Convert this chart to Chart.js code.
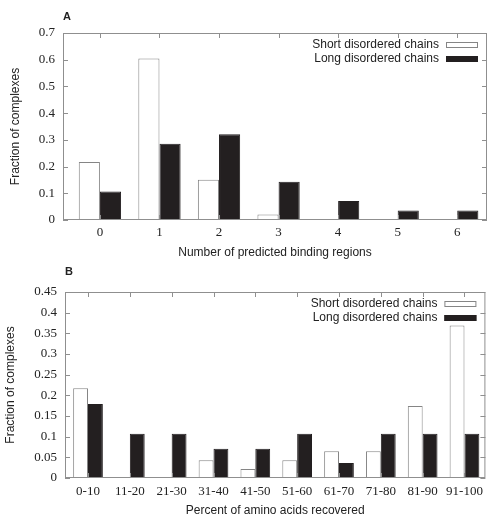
<!DOCTYPE html>
<html>
<head>
<meta charset="utf-8">
<script src="https://cdn.jsdelivr.net/npm/chart.js@4"></script>
<style>
    html, body { margin: 0; padding: 0; background: #fff; }
    body { width: 489px; height: 518px; position: relative; overflow: hidden; }
    .panel { position: absolute; left: 0; width: 489px; }
    #panel-a { top: 0; height: 262px; }
    #panel-b { top: 262px; height: 256px; }
</style>
</head>
<body>
<div class="panel" id="panel-a"><canvas id="chart-a"></canvas></div>
<div class="panel" id="panel-b"><canvas id="chart-b"></canvas></div>
<script>
// Panel A: number of predicted binding regions
const bindingRegions = ['0', '1', '2', '3', '4', '5', '6'];
const shortBinding = [0.217, 0.605, 0.151, 0.021, 0, 0, 0];
const longBinding = [0.107, 0.285, 0.321, 0.143, 0.071, 0.036, 0.036];

// Panel B: percent of amino acids recovered
const recoveredBins = ['0-10', '11-20', '21-30', '31-40', '41-50', '51-60', '61-70', '71-80', '81-90', '91-100'];
const shortRecovered = [0.217, 0, 0, 0.043, 0.022, 0.043, 0.065, 0.065, 0.174, 0.369];
const longRecovered = [0.179, 0.107, 0.107, 0.071, 0.071, 0.107, 0.036, 0.107, 0.107, 0.107];

const seriesNames = ['Short disordered chains', 'Long disordered chains'];

const FRAME = '#8f8f8f';
const TEXT = '#222';
const SANS = "'Liberation Sans', Arial, sans-serif";
const SERIF = "'Liberation Serif', 'Times New Roman', serif";

// gnuplot-like frame with inward ticks on all four sides, plus the key and panel letter
const framePlugin = {
    id: 'frame',
    afterDatasetsDraw(chart, args, opts) {
        const { ctx, chartArea: a, scales } = chart;
        ctx.save();
        ctx.strokeStyle = FRAME;
        ctx.lineWidth = 1;
        ctx.strokeRect(a.left + 0.5, a.top + 0.5, a.right - a.left - 1, a.bottom - a.top - 1);

        ctx.beginPath();
        scales.x.ticks.forEach((t, i) => {
            const px = Math.round(scales.x.getPixelForTick(i)) + 0.5;
            ctx.moveTo(px, a.bottom); ctx.lineTo(px, a.bottom - 5);
            ctx.moveTo(px, a.top); ctx.lineTo(px, a.top + 5);
        });
        scales.y.ticks.forEach((t, i) => {
            const py = Math.round(scales.y.getPixelForTick(i)) + 0.5;
            ctx.moveTo(a.left, py); ctx.lineTo(a.left + 5, py);
            ctx.moveTo(a.right, py); ctx.lineTo(a.right - 5, py);
        });
        ctx.stroke();

        // key, top right inside the plot
        ctx.font = '12px ' + SANS;
        ctx.textAlign = 'right';
        ctx.textBaseline = 'middle';
        chart.data.datasets.forEach((ds, i) => {
            const cy = a.top + 12 + i * 13.5;
            ctx.fillStyle = TEXT;
            ctx.fillText(ds.label, a.right - 48, cy);
            ctx.fillStyle = ds.backgroundColor;
            ctx.fillRect(a.right - 41, Math.round(cy - 3), 32, 6);
            ctx.strokeStyle = ds.borderColor;
            ctx.strokeRect(a.right - 40.5, Math.round(cy - 3) + 0.5, 31, 5);
        });

        // panel letter
        ctx.font = 'bold 11px ' + SANS;
        ctx.textAlign = 'left';
        ctx.fillStyle = TEXT;
        ctx.fillText(opts.letter, a.left, opts.letterY);
        ctx.restore();
    }
};

function makeChart(canvasId, cfg) {
    const toPoints = arr => arr.map((v, i) => ({ x: i, y: v }));
    return new Chart(document.getElementById(canvasId), {
        type: 'bar',
        data: {
            datasets: [{
                label: seriesNames[0],
                data: toPoints(cfg.shortVals),
                backgroundColor: '#ffffff',
                borderColor: '#858585',
                borderWidth: 1
            }, {
                label: seriesNames[1],
                data: toPoints(cfg.longVals),
                backgroundColor: '#231f20',
                borderColor: '#231f20',
                borderWidth: 1
            }]
        },
        options: {
            responsive: true,
            maintainAspectRatio: false,
            animation: false,
            categoryPercentage: 0.71,
            barPercentage: 1.0,
            layout: { padding: { top: cfg.padTop, right: 2, left: 0, bottom: 0 } },
            plugins: {
                legend: { display: false },
                tooltip: { enabled: false },
                frame: { letter: cfg.letter, letterY: cfg.letterY }
            },
            scales: {
                x: {
                    type: 'linear',
                    offset: false,
                    min: cfg.xMin,
                    max: cfg.xMax,
                    grid: { display: false, drawTicks: false, tickLength: 0 },
                    border: { display: false },
                    afterBuildTicks: scale => {
                        scale.ticks = cfg.labels.map((_, i) => ({ value: i }));
                    },
                    afterFit: scale => { scale.height = cfg.xHeight; },
                    ticks: {
                        padding: cfg.xTickPad,
                        color: TEXT,
                        font: { family: SERIF, size: 13 },
                        maxRotation: 0,
                        autoSkip: false,
                        callback: v => cfg.labels[v]
                    },
                    title: {
                        display: true,
                        text: cfg.xTitle,
                        color: TEXT,
                        font: { family: SANS, size: 12 },
                        padding: { top: 0, bottom: cfg.xTitlePad }
                    }
                },
                y: {
                    min: 0,
                    max: cfg.yMax,
                    grid: { display: false, drawTicks: false, tickLength: 0 },
                    border: { display: false },
                    afterFit: scale => { scale.width = cfg.yWidth; },
                    ticks: {
                        stepSize: cfg.yStep,
                        padding: 8,
                        color: TEXT,
                        font: { family: SERIF, size: 13 },
                        callback: v => String(+v.toFixed(2))
                    },
                    title: {
                        display: true,
                        text: 'Fraction of complexes',
                        color: TEXT,
                        font: { family: SANS, size: 12 },
                        padding: { top: cfg.yTitlePad, bottom: 0 }
                    }
                }
            }
        },
        plugins: [framePlugin]
    });
}

makeChart('chart-a', {
    labels: bindingRegions,
    shortVals: shortBinding,
    longVals: longBinding,
    xTitle: 'Number of predicted binding regions',
    letter: 'A',
    letterY: 17,
    padTop: 33,
    xMin: -0.62,
    xMax: 6.5,
    xHeight: 42,
    xTickPad: 5,
    xTitlePad: 2,
    yMax: 0.7,
    yStep: 0.1,
    yWidth: 63,
    yTitlePad: 8
});

makeChart('chart-b', {
    labels: recoveredBins,
    shortVals: shortRecovered,
    longVals: longRecovered,
    xTitle: 'Percent of amino acids recovered',
    letter: 'B',
    letterY: 10,
    padTop: 30,
    xMin: -0.55,
    xMax: 9.5,
    xHeight: 40,
    xTickPad: 6,
    xTitlePad: 0,
    yMax: 0.45,
    yStep: 0.05,
    yWidth: 65,
    yTitlePad: 3
});
</script>
</body>
</html>
